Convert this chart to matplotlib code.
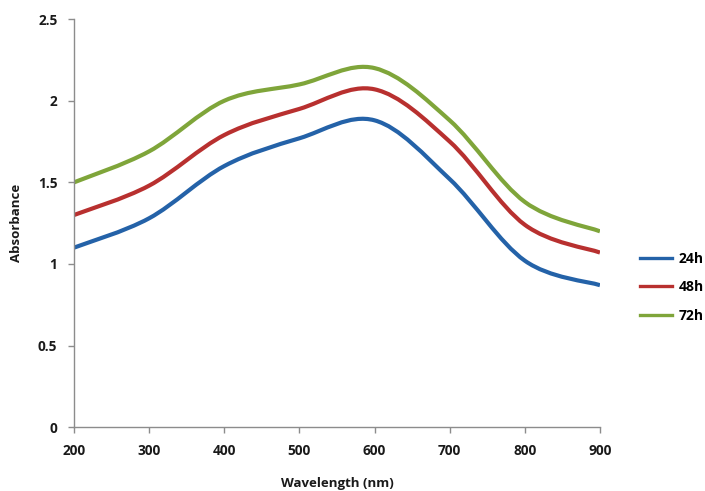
import numpy as np
import matplotlib
matplotlib.use("Agg")
import matplotlib.pyplot as plt
from matplotlib.path import Path
from matplotlib.patches import PathPatch
from matplotlib.lines import Line2D

plt.rcParams["font.family"] = ["Open Sans", "DejaVu Sans"]

wavelength = [200, 300, 400, 500, 600, 700, 800, 900]
abs_24h = [1.10, 1.28, 1.60, 1.77, 1.88, 1.52, 1.02, 0.87]
abs_48h = [1.30, 1.48, 1.79, 1.95, 2.07, 1.75, 1.24, 1.07]
abs_72h = [1.50, 1.69, 2.00, 2.10, 2.20, 1.88, 1.38, 1.20]
series_labels = ["24h", "48h", "72h"]
colors = ["#2462a8", "#b8302f", "#7fa53a"]


def smooth_path(x, y):
    """Spreadsheet-style smoothed line: cubic Bezier segments through every point."""
    p = np.column_stack([x, y]).astype(float)
    n = len(p)
    verts = [p[0]]
    codes = [Path.MOVETO]
    for i in range(n - 1):
        prev = p[i - 1] if i > 0 else p[i]
        nxt = p[i + 2] if i + 2 < n else p[i + 1]
        c1 = p[i] + (p[i + 1] - prev) / 6.0
        c2 = p[i + 1] - (nxt - p[i]) / 6.0
        verts += [c1, c2, p[i + 1]]
        codes += [Path.CURVE4] * 3
    return Path(verts, codes)


fig = plt.figure(figsize=(7.05, 4.91), dpi=100)
ax = fig.add_axes([0.105, 0.130, 0.746, 0.831])

for vals, c in zip([abs_24h, abs_48h, abs_72h], colors):
    ax.add_patch(PathPatch(smooth_path(wavelength, vals), fill=False,
                           edgecolor=c, lw=3.0, capstyle="butt", joinstyle="round"))

ax.set_xlim(200, 900)
ax.set_ylim(0, 2.5)
ax.set_xticks(range(200, 901, 100))
ax.set_yticks([0, 0.5, 1, 1.5, 2, 2.5])
ax.set_yticklabels(["0", "0.5", "1", "1.5", "2", "2.5"])

for s in ["top", "right"]:
    ax.spines[s].set_visible(False)
for s in ["left", "bottom"]:
    ax.spines[s].set_color("#8c8c8c")
    ax.spines[s].set_linewidth(1.0)
ax.tick_params(axis="both", direction="out", length=4, width=1.0, color="#8c8c8c",
               labelsize=9.8, labelcolor="#1a1a1a")
ax.tick_params(axis="x", pad=8)
ax.tick_params(axis="y", pad=8)
for lbl in ax.get_xticklabels() + ax.get_yticklabels():
    lbl.set_fontweight("bold")

ax.set_xlabel("Wavelength (nm)", fontsize=9.5, fontweight="bold", color="#1a1a1a")
ax.set_ylabel("Absorbance", fontsize=9.5, fontweight="bold", color="#1a1a1a")
ax.xaxis.set_label_coords(0.5, -0.122)
ax.yaxis.set_label_coords(-0.097, 0.50)

handles = [Line2D([], [], color=c, lw=2.4) for c in colors]
fig.legend(handles, series_labels, loc="center left", bbox_to_anchor=(0.908, 0.415),
           frameon=False, handlelength=2.3, handletextpad=0.5, labelspacing=1.05,
           borderaxespad=0, borderpad=0, prop={"weight": "bold", "size": 10})

fig.savefig("out.png", dpi=100)
